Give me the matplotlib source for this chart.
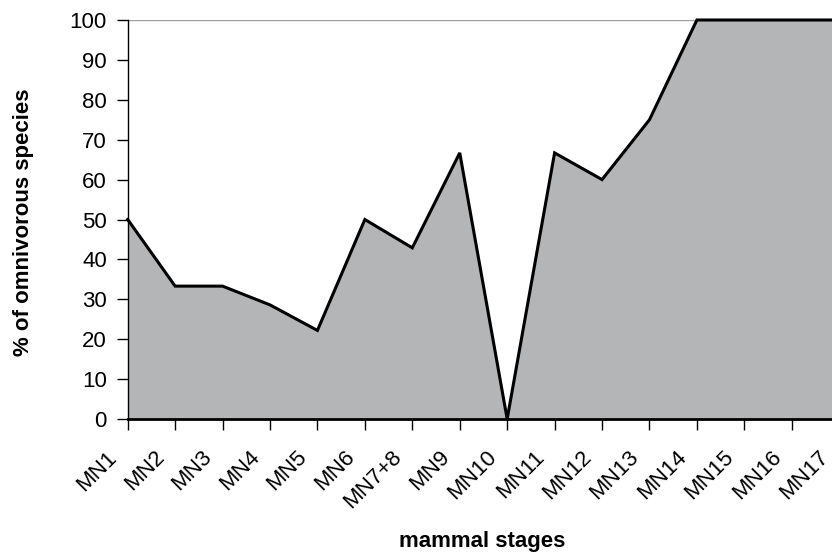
import numpy as np
import matplotlib
matplotlib.use("Agg")
import matplotlib.pyplot as plt
import matplotlib.transforms as mtransforms

plt.rcParams["font.family"] = ["Liberation Sans", "DejaVu Sans"]

stages = ["MN1", "MN2", "MN3", "MN4", "MN5", "MN6", "MN7+8", "MN9", "MN10",
          "MN11", "MN12", "MN13", "MN14", "MN15", "MN16", "MN17"]
pct_omnivorous = [50, 33.3, 33.3, 28.6, 22.2, 50, 42.9, 66.7, 0,
                  66.7, 60, 75, 100, 100, 100, 100]
y_ticks = list(range(0, 101, 10))

W, H = 832, 554
fig = plt.figure(figsize=(W / 100, H / 100), dpi=100)
# plot area runs past the right edge of the picture, like the source
left, right, top, bottom = 127.7, 839.2, 20, 419
ax = fig.add_axes([left / W, (H - bottom) / H, (right - left) / W, (bottom - top) / H])

x = np.arange(len(stages))
ax.fill_between(x, pct_omnivorous, 0, color="#b4b5b7", lw=0, zorder=1)
ax.plot(x, pct_omnivorous, color="black", lw=2.2, zorder=3, clip_on=False,
        solid_joinstyle="miter")
ax.axhline(100, color="#a0a0a0", lw=1, zorder=0.5)

ax.set_xlim(0, len(stages) - 1)
ax.set_ylim(0, 100)
ax.set_yticks(y_ticks)
ax.set_xticks(x)
ax.set_xticklabels(stages, rotation=45, ha="right", va="top",
                   rotation_mode="anchor", fontsize=16)
ax.tick_params(axis="y", labelsize=16, length=8, width=1, pad=7)
ax.tick_params(axis="x", length=8, width=1, pad=12)
shift = mtransforms.ScaledTranslation(-21 / 100, 0, fig.dpi_scale_trans)
for lab in ax.get_xticklabels():
    lab.set_transform(lab.get_transform() + shift)

for s in ("top", "right"):
    ax.spines[s].set_visible(False)
ax.spines["left"].set_linewidth(1)
ax.spines["bottom"].set_linewidth(2)

fig.text(24 / W, 1 - 222 / H, "% of omnivorous species", rotation=90,
         ha="center", va="center", fontsize=16, fontweight="bold")
fig.text(482 / W, 1 - 542 / H, "mammal stages", ha="center", va="center",
         fontsize=16, fontweight="bold")

fig.savefig("out.png", dpi=100)
